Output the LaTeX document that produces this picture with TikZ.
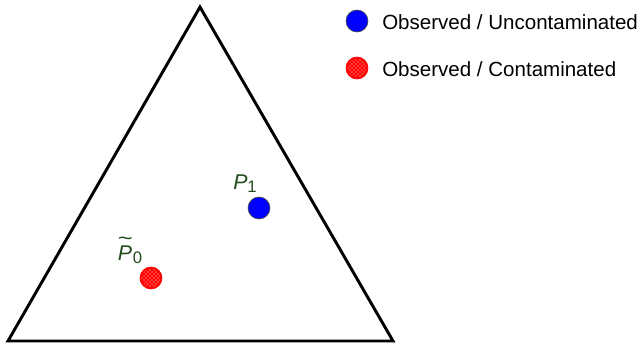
\documentclass[tikz,border=0pt]{standalone}
\usepackage{fontspec}
\usepackage{graphicx}
\setmainfont{Liberation Sans}
\usetikzlibrary{patterns}
\definecolor{lblgreen}{RGB}{35,75,30}
\newcommand{\mytildeP}{\ooalign{\hfil\raisebox{0.68em}{\scalebox{1.2}[1.0]{\upshape\textasciitilde}}\hfil\cr P}}
\begin{document}
\begin{tikzpicture}[x=0.75pt,y=-0.75pt,
  tri/.style={draw=black,line width=2.2pt,line join=miter},
  bluedot/.style={circle,draw=black!70,line width=0.5pt,fill=blue,minimum size=16.5pt,inner sep=0pt},
  reddot/.style={circle,draw=red,line width=0.5pt,fill=red,minimum size=16.5pt,inner sep=0pt},
  lbl/.style={text=lblgreen,font=\fontsize{16pt}{18pt}\selectfont\itshape,inner sep=0pt},
  leg/.style={font=\fontsize{15.4pt}{18pt}\selectfont,anchor=west,inner sep=0pt}]
\useasboundingbox (0,0) rectangle (640,344);
\coordinate (A) at (200,7);
\coordinate (B) at (8,341);
\coordinate (C) at (393,341);
\draw[tri] (A) -- (B) -- (C) -- cycle;
\node[bluedot] (p1) at (259,208) {};
\node[reddot] (p0) at (151,278) {};
\fill[pattern=crosshatch dots,pattern color=white] (p0.center) circle (7pt);
\node[lbl,anchor=base] (l1) at (245,189) {P\raisebox{-0.3ex}{\fontsize{12.5pt}{13pt}\selectfont\upshape 1}};
\node[lbl,anchor=base] (l0) at (130,260) {\mytildeP\raisebox{-0.3ex}{\fontsize{12.5pt}{13pt}\selectfont\upshape 0}};
\node[bluedot] (lb) at (357,21) {};
\node[leg] (tb) at (382,22) {Observed / Uncontaminated};
\node[reddot] (lr) at (357,68) {};
\fill[pattern=crosshatch dots,pattern color=white] (lr.center) circle (7pt);
\node[leg] (tr) at (382,69) {Observed / Contaminated};
\end{tikzpicture}
\end{document}
